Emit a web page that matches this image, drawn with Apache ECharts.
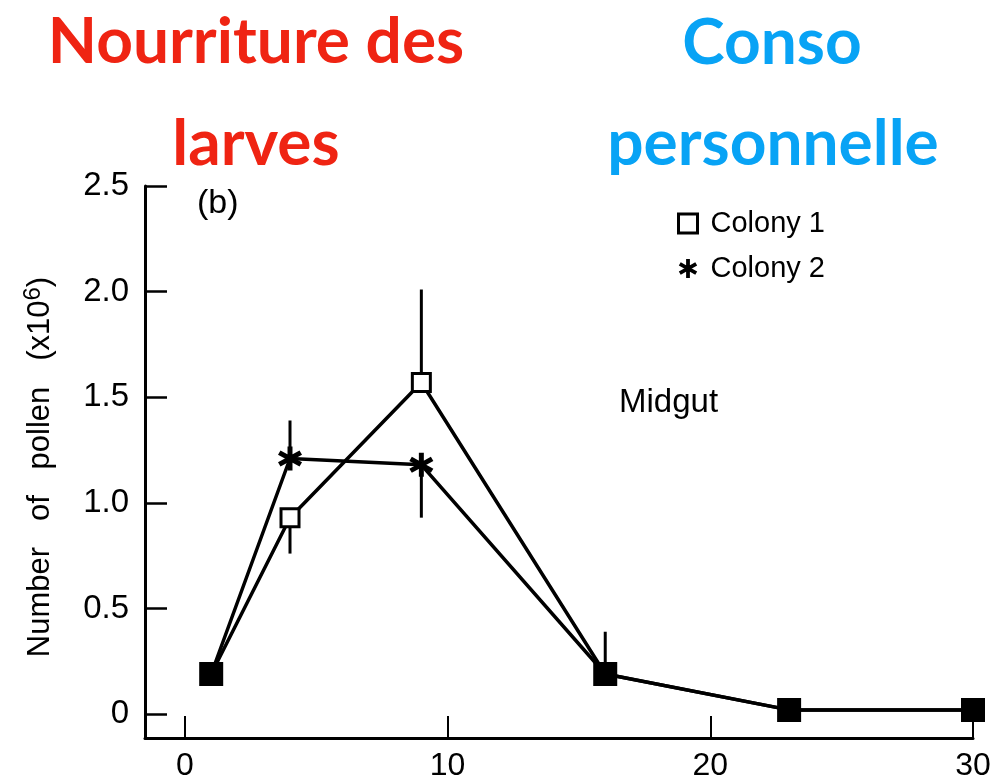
<!DOCTYPE html>
<html>
<head>
<meta charset="utf-8">
<script src="https://cdn.jsdelivr.net/npm/echarts@6/dist/echarts.min.js"></script>
<style>
html,body{margin:0;padding:0;background:#fff;}
#chart{width:996px;height:782px;}
</style>
</head>
<body>
<div id="chart"></div>
<script>
// ---- data ----
var days = [1, 4, 9, 16, 23, 30];
var colony1 = [0.19, 0.93, 1.57, 0.19, 0.02, 0.02];
var colony2 = [0.19, 1.21, 1.18, 0.19, 0.02, 0.02];
// error bars: [day, low, high]
var errColony1 = [[4, 0.76, 0.93], [9, 1.57, 2.01]];
var errColony2 = [[4, 1.21, 1.39], [9, 0.93, 1.18], [16, 0.19, 0.39]];
var xTicks = [0, 10, 20, 30];
var yTicks = [0, 0.5, 1.0, 1.5, 2.0, 2.5];
var seriesNames = ['Colony 1', 'Colony 2'];

// thick six-armed asterisk (three bars, same winding)
var starPath = 'path://M40 0L60 0L60 100L40 100Z' +
  'M1.7 34.0L11.7 16.7L98.3 66.0L88.3 83.3Z' +
  'M88.3 16.7L98.3 34.0L11.7 83.3L1.7 66.0Z';

function pts(vals, name) {
  return days.map(function (d, i) {
    var same = colony1[i] === colony2[i];
    var item = { value: [d, vals[i]] };
    if (name === 'Colony 1') {
      if (same) {
        item.symbolSize = 21;
        item.itemStyle = { color: '#000', borderColor: '#000' };
      }
    } else {
      if (same) item.symbol = 'none';
    }
    return item;
  });
}

function errSeries(data) {
  return {
    type: 'custom',
    silent: true,
    z: 1,
    data: data,
    renderItem: function (params, api) {
      var p1 = api.coord([api.value(0), api.value(1)]);
      var p2 = api.coord([api.value(0), api.value(2)]);
      return {
        type: 'line',
        shape: { x1: p1[0], y1: p1[1], x2: p2[0], y2: p2[1] },
        style: { stroke: '#000', lineWidth: 3 }
      };
    }
  };
}

var chart = echarts.init(document.getElementById('chart'), null, { renderer: 'canvas' });
var axisFont = 'Liberation Sans, Arial, sans-serif';
var titleFont = 'bold 64px Lato, sans-serif';
var option = {
  backgroundColor: '#fff',
  animation: false,
  grid: { left: 145, right: 23, top: 186, bottom: 42, containLabel: false },
  xAxis: {
    type: 'value',
    min: -1.52,
    max: 30,
    axisLine: { show: true, onZero: false, lineStyle: { color: '#000', width: 3 } },
    axisTick: { show: true, inside: true, length: 22, customValues: xTicks, lineStyle: { color: '#000', width: 2 } },
    axisLabel: { show: true, customValues: xTicks, color: '#000', fontSize: 32, fontFamily: axisFont, margin: 12 },
    splitLine: { show: false }
  },
  yAxis: {
    type: 'value',
    min: -0.113,
    max: 2.5,
    axisLine: { show: true, onZero: false, lineStyle: { color: '#000', width: 3 } },
    axisTick: { show: true, inside: true, length: 22, customValues: yTicks, lineStyle: { color: '#000', width: 2.5 } },
    axisLabel: {
      show: true, customValues: yTicks, color: '#000', fontSize: 33, fontFamily: axisFont, margin: 16,
      formatter: function (v) { return v === 0 ? '0' : v.toFixed(1); }
    },
    splitLine: { show: false }
  },
  legend: {
    orient: 'vertical',
    left: 672,
    top: 204,
    itemGap: 16,
    itemWidth: 19,
    itemHeight: 19,
    selectedMode: false,
    textStyle: { color: '#000', fontSize: 29, fontFamily: axisFont, padding: [0, 0, 0, 8] },
    data: [
      { name: seriesNames[0], icon: 'rect', itemStyle: { color: '#fff', borderColor: '#000', borderWidth: 3 } },
      { name: seriesNames[1], icon: starPath, itemStyle: { color: '#000', borderWidth: 0 } }
    ]
  },
  graphic: [
    { type: 'text', x: 256, y: 42, style: { text: 'Nourriture des', fill: '#EF2413', font: titleFont, align: 'center', verticalAlign: 'middle' } },
    { type: 'text', x: 256, y: 144, style: { text: 'larves', fill: '#EF2413', font: titleFont, align: 'center', verticalAlign: 'middle' } },
    { type: 'text', x: 772, y: 43, style: { text: 'Conso', fill: '#08A3F5', font: titleFont, align: 'center', verticalAlign: 'middle' } },
    { type: 'text', x: 773, y: 144, style: { text: 'personnelle', fill: '#08A3F5', font: titleFont, align: 'center', verticalAlign: 'middle' } },
    { type: 'text', x: 197, y: 204, style: { text: '(b)', fill: '#000', font: '34px Liberation Sans, Arial, sans-serif', align: 'left', verticalAlign: 'middle' } },
    { type: 'text', x: 619, y: 403, style: { text: 'Midgut', fill: '#000', font: '33px Liberation Sans, Arial, sans-serif', align: 'left', verticalAlign: 'middle' } },
    {
      type: 'text', x: 40, y: 467, rotation: Math.PI / 2,
      style: {
        text: 'Number   of   pollen   (x10{sup|6})',
        rich: { sup: { fontSize: 24, verticalAlign: 'top', padding: [0, 0, 14, 0], fill: '#000', fontFamily: axisFont } },
        fill: '#000', font: '31px Liberation Sans, Arial, sans-serif', align: 'center', verticalAlign: 'middle'
      }
    }
  ],
  series: [
    errSeries(errColony1),
    errSeries(errColony2),
    {
      name: seriesNames[0], type: 'line', z: 3,
      data: pts(colony1, 'Colony 1'),
      symbol: 'rect', symbolSize: 18,
      lineStyle: { color: '#000', width: 3.5 },
      itemStyle: { color: '#fff', borderColor: '#000', borderWidth: 3 }
    },
    {
      name: seriesNames[1], type: 'line', z: 2,
      data: pts(colony2, 'Colony 2'),
      symbol: starPath, symbolSize: 24,
      lineStyle: { color: '#000', width: 3.5 },
      itemStyle: { color: '#000', borderWidth: 0 }
    }
  ]
};
chart.setOption(option);
</script>
</body>
</html>
